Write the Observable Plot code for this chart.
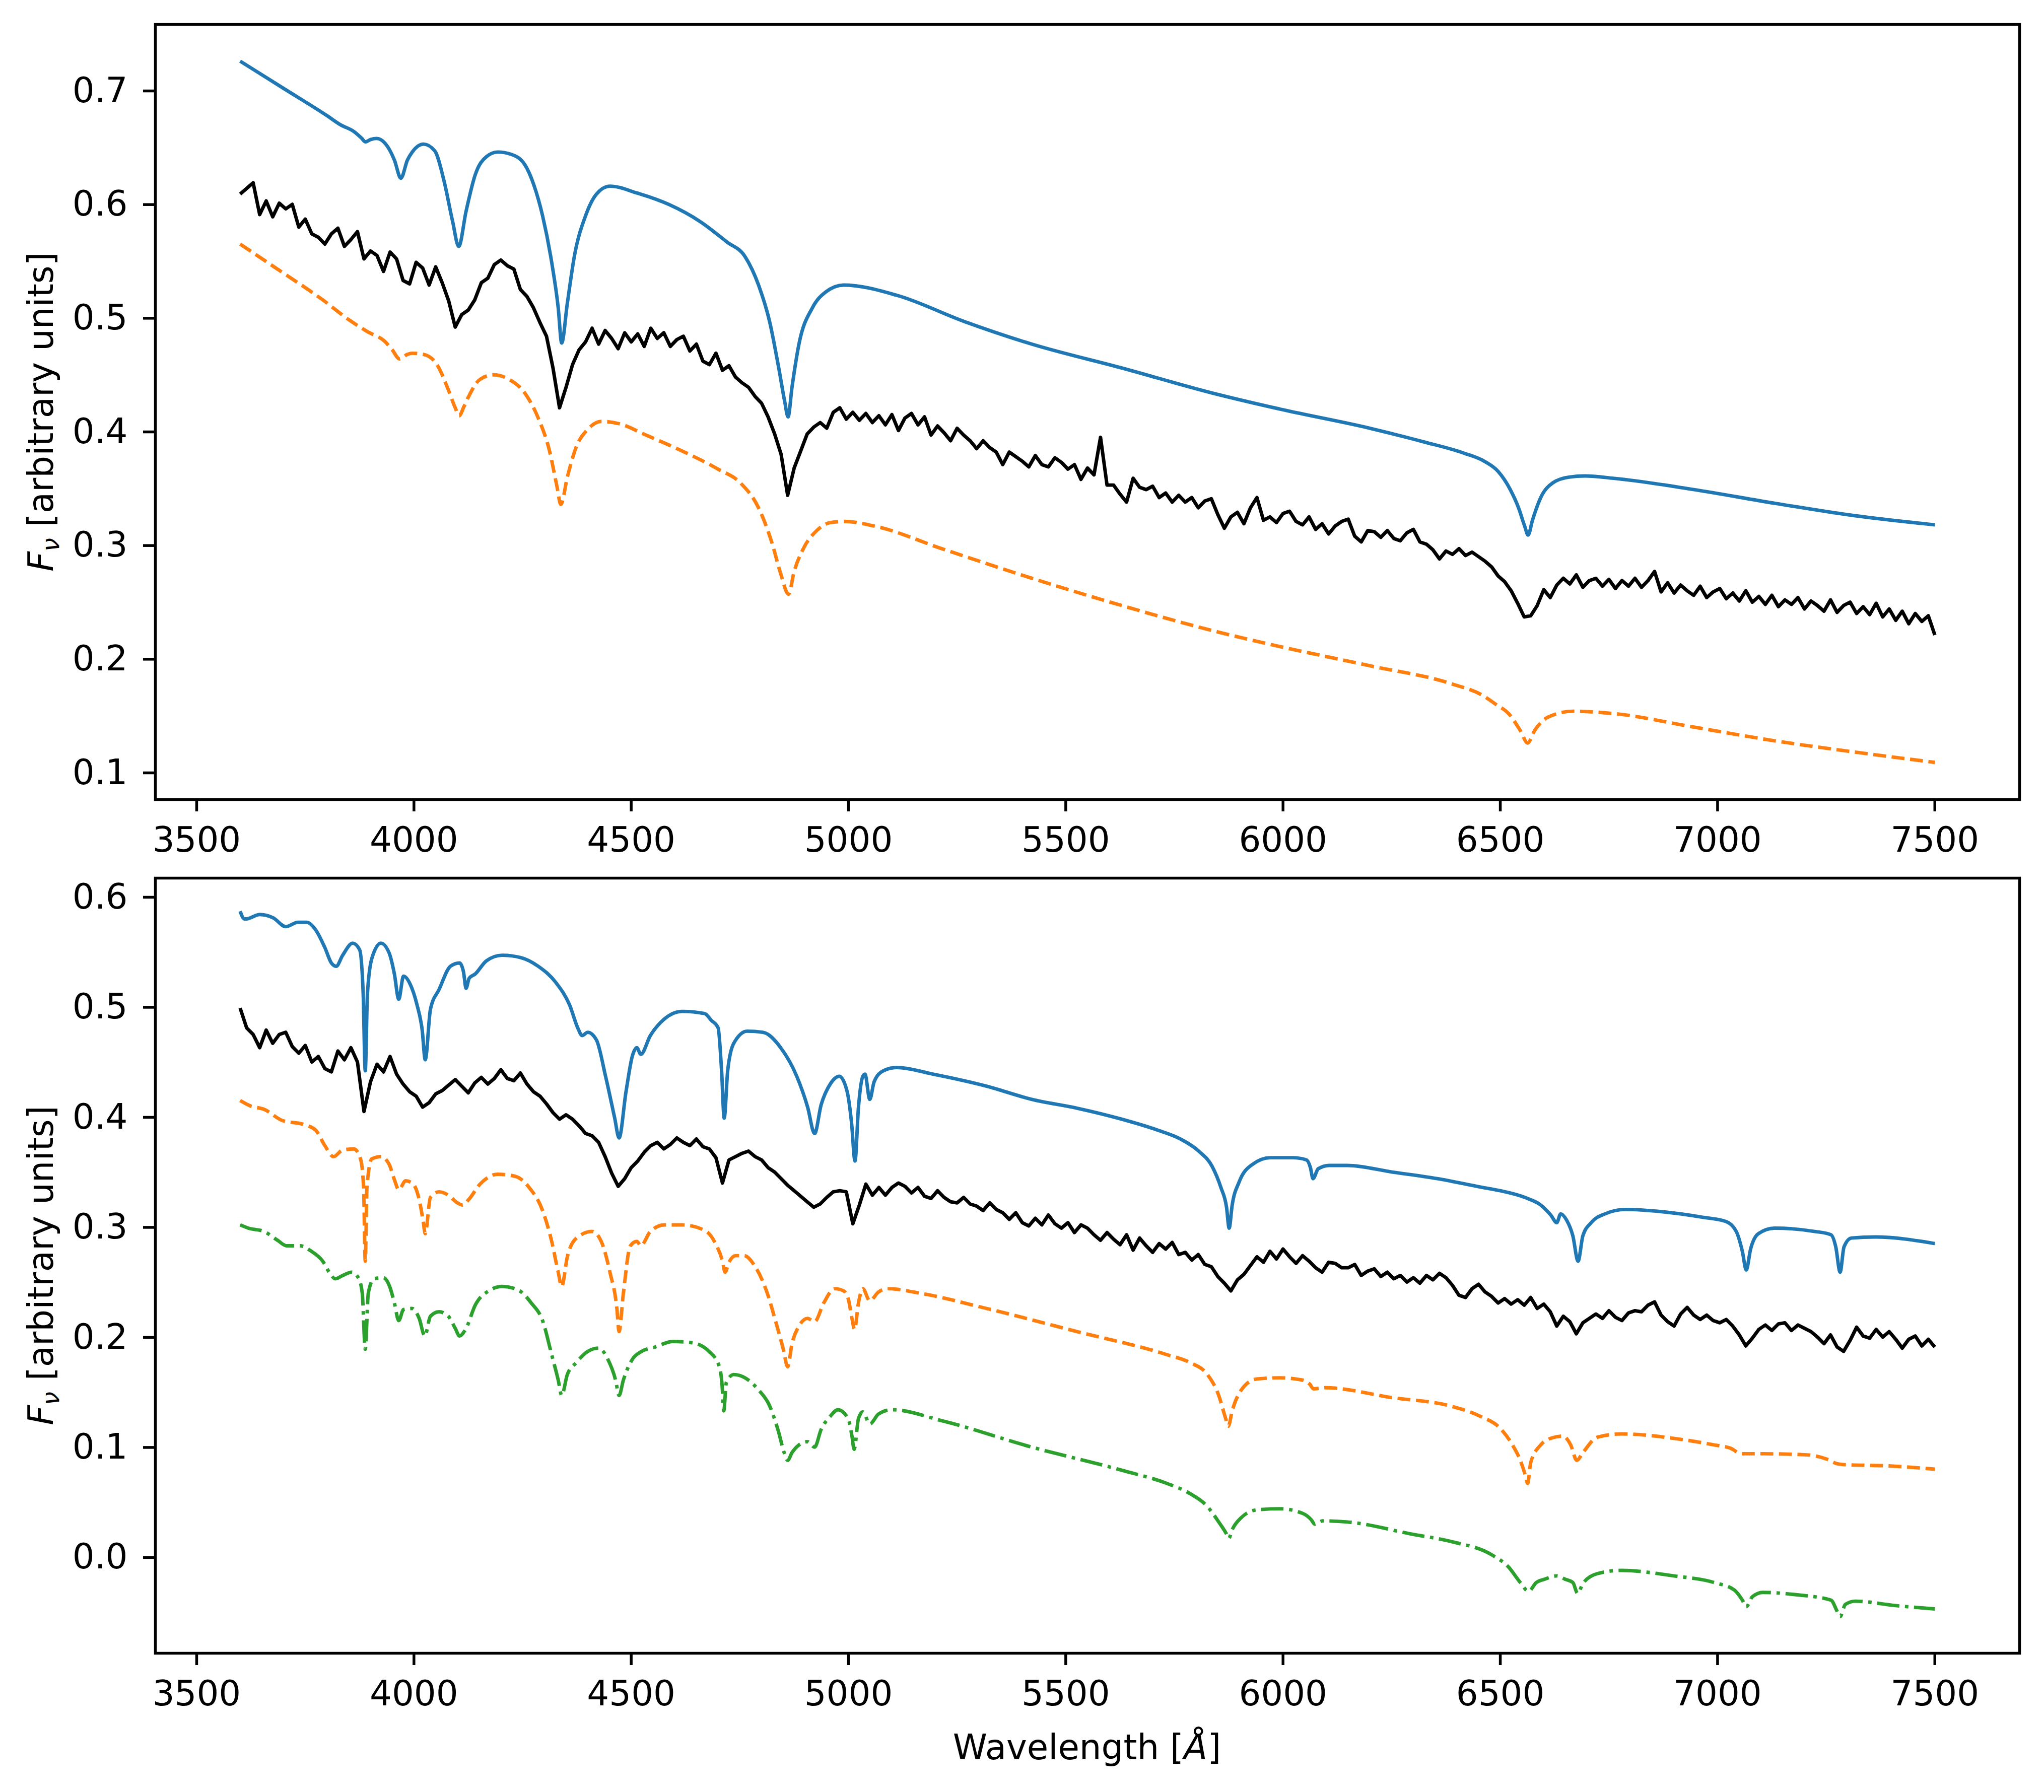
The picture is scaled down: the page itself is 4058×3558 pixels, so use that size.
<!DOCTYPE html>
<html><head><meta charset="utf-8">
<script src="https://cdn.jsdelivr.net/npm/d3@7"></script>
<script src="https://cdn.jsdelivr.net/npm/@observablehq/plot@0.6"></script>
<style>
html,body{margin:0;padding:0;background:#fff;}
#chart{width:4058px;height:3558px;position:relative;background:#fff;}
#chart svg{display:block;}
</style></head><body><div id="chart"></div>
<script>
// ---- tick labels ----
const wavelengthTicks = [3500, 4000, 4500, 5000, 5500, 6000, 6500, 7000, 7500];
const topFluxTicks = [0.1, 0.2, 0.3, 0.4, 0.5, 0.6, 0.7];
const bottomFluxTicks = [0.0, 0.1, 0.2, 0.3, 0.4, 0.5, 0.6];

// ---- observed spectra (sampled every 15 Å from 3600 Å) ----
const obsStart = 3600, obsStep = 15;
const topObserved = [
0.607,0.612,0.617,0.589,0.601,0.587,0.599,0.594,0.598,0.578,
0.585,0.572,0.569,0.563,0.572,0.577,0.561,0.567,0.574,0.550,
0.557,0.553,0.539,0.556,0.550,0.531,0.528,0.547,0.542,0.527,
0.543,0.529,0.513,0.490,0.501,0.505,0.514,0.529,0.533,0.545,
0.549,0.544,0.541,0.523,0.517,0.507,0.494,0.482,0.454,0.419,
0.437,0.457,0.470,0.477,0.489,0.475,0.487,0.480,0.471,0.485,
0.477,0.484,0.473,0.489,0.480,0.485,0.473,0.479,0.482,0.469,
0.475,0.460,0.457,0.467,0.452,0.456,0.446,0.441,0.437,0.429,
0.423,0.411,0.396,0.378,0.342,0.366,0.381,0.396,0.402,0.406,
0.401,0.415,0.419,0.409,0.415,0.408,0.414,0.406,0.412,0.404,
0.413,0.399,0.410,0.414,0.404,0.411,0.395,0.403,0.397,0.390,
0.401,0.395,0.390,0.383,0.390,0.384,0.380,0.369,0.380,0.376,
0.372,0.367,0.377,0.369,0.367,0.375,0.371,0.365,0.369,0.356,
0.366,0.360,0.393,0.351,0.351,0.343,0.336,0.357,0.349,0.347,
0.350,0.340,0.344,0.336,0.342,0.336,0.340,0.331,0.337,0.339,
0.325,0.313,0.323,0.327,0.317,0.331,0.340,0.320,0.323,0.318,
0.326,0.328,0.319,0.316,0.323,0.312,0.317,0.308,0.315,0.319,
0.321,0.306,0.301,0.311,0.310,0.305,0.311,0.304,0.302,0.309,
0.312,0.301,0.299,0.294,0.286,0.293,0.290,0.295,0.289,0.292,
0.288,0.284,0.279,0.271,0.266,0.258,0.247,0.235,0.236,0.245,
0.259,0.252,0.263,0.269,0.264,0.272,0.261,0.267,0.269,0.262,
0.268,0.260,0.267,0.262,0.269,0.261,0.267,0.275,0.257,0.265,
0.256,0.263,0.258,0.254,0.262,0.252,0.257,0.260,0.251,0.256,
0.249,0.258,0.248,0.253,0.246,0.254,0.244,0.250,0.246,0.252,
0.242,0.249,0.245,0.240,0.250,0.239,0.245,0.248,0.238,0.244,
0.237,0.247,0.235,0.242,0.232,0.240,0.229,0.238,0.231,0.236,
0.219];
const bottomObserved = [
0.497,0.479,0.473,0.461,0.477,0.465,0.473,0.475,0.462,0.456,
0.463,0.448,0.453,0.442,0.439,0.458,0.450,0.461,0.448,0.403,
0.430,0.446,0.439,0.453,0.437,0.428,0.421,0.417,0.407,0.411,
0.419,0.422,0.427,0.432,0.426,0.420,0.429,0.434,0.428,0.433,
0.441,0.433,0.431,0.438,0.428,0.421,0.417,0.410,0.402,0.396,
0.400,0.396,0.390,0.383,0.381,0.375,0.362,0.347,0.335,0.342,
0.352,0.358,0.366,0.372,0.375,0.369,0.373,0.379,0.375,0.372,
0.378,0.371,0.369,0.361,0.338,0.359,0.362,0.365,0.367,0.362,
0.359,0.352,0.348,0.342,0.336,0.331,0.326,0.321,0.316,0.319,
0.325,0.330,0.331,0.330,0.301,0.318,0.337,0.327,0.334,0.327,
0.334,0.338,0.335,0.329,0.334,0.326,0.324,0.331,0.325,0.321,
0.320,0.325,0.319,0.317,0.313,0.320,0.314,0.311,0.305,0.311,
0.302,0.299,0.306,0.300,0.309,0.301,0.297,0.302,0.293,0.300,
0.297,0.291,0.286,0.293,0.287,0.282,0.291,0.277,0.288,0.281,
0.275,0.283,0.278,0.284,0.273,0.275,0.268,0.273,0.264,0.262,
0.253,0.247,0.240,0.250,0.255,0.263,0.271,0.266,0.276,0.269,
0.278,0.271,0.265,0.272,0.267,0.261,0.257,0.266,0.265,0.261,
0.261,0.264,0.254,0.258,0.260,0.253,0.257,0.251,0.254,0.248,
0.252,0.247,0.254,0.250,0.256,0.252,0.245,0.236,0.234,0.242,
0.246,0.239,0.235,0.229,0.233,0.228,0.232,0.227,0.234,0.224,
0.228,0.221,0.208,0.217,0.212,0.201,0.211,0.215,0.219,0.215,
0.222,0.216,0.213,0.220,0.222,0.221,0.227,0.230,0.218,0.212,
0.208,0.219,0.225,0.218,0.214,0.218,0.213,0.211,0.214,0.208,
0.200,0.190,0.197,0.205,0.209,0.204,0.210,0.211,0.204,0.209,
0.206,0.203,0.198,0.192,0.200,0.189,0.185,0.195,0.207,0.199,
0.197,0.205,0.198,0.203,0.196,0.188,0.196,0.199,0.190,0.196,
0.189];

// ---- model spectra [wavelength Å, flux] ----
const topModelA = [[3600,0.724],[3700,0.700],[3800,0.676],[3831,0.668],[3862,0.662],[3880,0.656],[3888,0.653],[3900,0.655],[3914,0.656],[3939,0.649],[3955,0.637],[3970,0.621],[3985,0.637],[3996,0.644],[4022,0.651],[4048,0.645],[4069,0.619],[4089,0.583],[4103,0.561],[4120,0.592],[4141,0.624],[4167,0.640],[4193,0.644],[4224,0.642],[4255,0.633],[4276,0.615],[4296,0.588],[4317,0.547],[4332,0.507],[4340,0.476],[4353,0.511],[4369,0.552],[4395,0.588],[4420,0.607],[4451,0.614],[4513,0.608],[4586,0.598],[4658,0.583],[4720,0.565],[4762,0.552],[4793,0.527],[4819,0.494],[4840,0.453],[4853,0.425],[4861,0.411],[4870,0.437],[4886,0.475],[4917,0.507],[4948,0.521],[4989,0.527],[5111,0.518],[5266,0.495],[5422,0.475],[5629,0.454],[5837,0.432],[6003,0.417],[6200,0.401],[6324,0.389],[6417,0.379],[6463,0.372],[6495,0.363],[6523,0.347],[6542,0.331],[6556,0.315],[6564,0.307],[6574,0.320],[6593,0.340],[6621,0.353],[6658,0.358],[6695,0.359],[6760,0.357],[6946,0.347],[7131,0.335],[7317,0.324],[7500,0.316]];
const topModelB = [[3600,0.563],[3686,0.541],[3790,0.514],[3852,0.496],[3893,0.486],[3934,0.477],[3950,0.470],[3967,0.462],[3985,0.466],[3996,0.467],[4022,0.466],[4053,0.457],[4079,0.435],[4095,0.419],[4104,0.412],[4115,0.420],[4126,0.429],[4152,0.444],[4183,0.448],[4219,0.444],[4255,0.432],[4286,0.410],[4312,0.381],[4329,0.350],[4338,0.334],[4353,0.358],[4374,0.385],[4400,0.400],[4431,0.407],[4472,0.405],[4534,0.395],[4617,0.381],[4700,0.365],[4751,0.353],[4793,0.331],[4824,0.300],[4844,0.273],[4862,0.255],[4875,0.275],[4896,0.295],[4927,0.311],[4958,0.318],[4989,0.319],[5059,0.315],[5215,0.295],[5422,0.269],[5629,0.245],[5837,0.223],[5992,0.209],[6200,0.192],[6389,0.176],[6459,0.166],[6490,0.158],[6519,0.150],[6546,0.135],[6563,0.124],[6579,0.135],[6611,0.147],[6667,0.152],[6760,0.150],[6946,0.138],[7131,0.126],[7317,0.116],[7500,0.107]];
const bottomModelA = [[3600,0.585],[3610,0.578],[3614,0.578],[3645,0.582],[3676,0.579],[3705,0.571],[3733,0.575],[3753,0.575],[3774,0.568],[3795,0.552],[3810,0.538],[3821,0.535],[3836,0.545],[3859,0.556],[3875,0.550],[3883,0.512],[3888,0.440],[3893,0.510],[3903,0.542],[3924,0.556],[3943,0.547],[3955,0.528],[3965,0.505],[3976,0.526],[3991,0.519],[4007,0.500],[4019,0.477],[4026,0.450],[4038,0.496],[4058,0.514],[4084,0.535],[4105,0.538],[4114,0.530],[4120,0.515],[4127,0.524],[4141,0.528],[4167,0.540],[4203,0.545],[4245,0.543],[4286,0.535],[4327,0.520],[4358,0.500],[4378,0.478],[4387,0.472],[4400,0.475],[4420,0.468],[4441,0.435],[4462,0.397],[4472,0.379],[4488,0.421],[4503,0.454],[4513,0.461],[4522,0.455],[4544,0.472],[4576,0.487],[4617,0.494],[4669,0.492],[4684,0.486],[4700,0.479],[4708,0.440],[4714,0.397],[4722,0.440],[4736,0.465],[4767,0.476],[4803,0.475],[4844,0.461],[4881,0.435],[4906,0.407],[4922,0.383],[4937,0.409],[4958,0.428],[4979,0.435],[4997,0.421],[5007,0.393],[5015,0.358],[5023,0.407],[5033,0.435],[5038,0.437],[5049,0.414],[5059,0.430],[5080,0.440],[5111,0.443],[5194,0.437],[5318,0.426],[5422,0.414],[5526,0.406],[5629,0.396],[5712,0.386],[5764,0.378],[5806,0.367],[5837,0.353],[5857,0.334],[5870,0.316],[5876,0.297],[5883,0.318],[5899,0.339],[5930,0.355],[5971,0.361],[6023,0.361],[6054,0.359],[6063,0.352],[6069,0.342],[6081,0.351],[6106,0.354],[6148,0.354],[6251,0.348],[6355,0.342],[6459,0.334],[6500,0.331],[6556,0.325],[6593,0.318],[6616,0.309],[6630,0.302],[6639,0.310],[6653,0.304],[6667,0.290],[6679,0.267],[6690,0.290],[6709,0.302],[6741,0.310],[6788,0.314],[6871,0.312],[6964,0.307],[7020,0.303],[7043,0.294],[7057,0.276],[7066,0.259],[7076,0.278],[7094,0.292],[7131,0.297],[7224,0.294],[7261,0.291],[7272,0.280],[7282,0.257],[7291,0.280],[7308,0.288],[7363,0.289],[7500,0.283]];
const bottomModelB = [[3600,0.413],[3624,0.408],[3655,0.405],[3696,0.395],[3748,0.391],[3774,0.386],[3795,0.372],[3815,0.362],[3836,0.368],[3862,0.369],[3877,0.360],[3884,0.335],[3888,0.267],[3892,0.335],[3903,0.360],[3924,0.362],[3943,0.355],[3955,0.341],[3965,0.332],[3981,0.340],[3996,0.338],[4012,0.323],[4021,0.304],[4026,0.292],[4038,0.325],[4058,0.330],[4079,0.327],[4100,0.320],[4112,0.318],[4126,0.323],[4152,0.337],[4193,0.346],[4234,0.344],[4265,0.334],[4296,0.313],[4317,0.285],[4332,0.257],[4340,0.244],[4353,0.271],[4374,0.288],[4410,0.294],[4431,0.285],[4451,0.257],[4467,0.224],[4472,0.203],[4482,0.238],[4498,0.281],[4513,0.285],[4522,0.281],[4544,0.294],[4576,0.300],[4617,0.300],[4669,0.295],[4694,0.283],[4710,0.267],[4716,0.257],[4725,0.266],[4740,0.272],[4760,0.272],[4782,0.264],[4813,0.238],[4834,0.210],[4850,0.187],[4860,0.171],[4870,0.192],[4886,0.208],[4906,0.215],[4922,0.212],[4943,0.229],[4968,0.242],[4989,0.240],[5000,0.232],[5008,0.215],[5014,0.205],[5023,0.229],[5033,0.242],[5049,0.231],[5069,0.239],[5090,0.242],[5163,0.238],[5318,0.224],[5526,0.203],[5733,0.182],[5785,0.175],[5826,0.164],[5852,0.145],[5868,0.124],[5874,0.117],[5883,0.131],[5904,0.150],[5940,0.160],[5992,0.161],[6044,0.159],[6062,0.155],[6070,0.151],[6096,0.152],[6251,0.143],[6389,0.135],[6454,0.126],[6500,0.115],[6528,0.100],[6546,0.086],[6558,0.072],[6563,0.065],[6570,0.084],[6593,0.100],[6616,0.106],[6644,0.108],[6662,0.100],[6676,0.086],[6690,0.093],[6723,0.107],[6779,0.110],[6899,0.106],[6992,0.100],[7030,0.097],[7055,0.092],[7094,0.092],[7206,0.091],[7252,0.087],[7275,0.083],[7298,0.082],[7391,0.081],[7500,0.078]];
const bottomModelC = [[3600,0.300],[3619,0.297],[3655,0.294],[3686,0.286],[3707,0.281],[3738,0.281],[3764,0.276],[3790,0.267],[3805,0.257],[3819,0.251],[3836,0.254],[3857,0.257],[3872,0.252],[3881,0.238],[3888,0.187],[3895,0.238],[3908,0.251],[3929,0.252],[3945,0.243],[3955,0.229],[3965,0.213],[3976,0.223],[3996,0.224],[4012,0.215],[4025,0.199],[4038,0.217],[4058,0.221],[4079,0.217],[4095,0.206],[4105,0.199],[4120,0.206],[4141,0.227],[4172,0.240],[4203,0.244],[4239,0.241],[4270,0.229],[4296,0.213],[4317,0.182],[4332,0.159],[4340,0.145],[4353,0.164],[4374,0.175],[4400,0.185],[4425,0.188],[4446,0.178],[4464,0.159],[4472,0.145],[4482,0.159],[4503,0.178],[4524,0.185],[4555,0.189],[4596,0.194],[4638,0.193],[4679,0.185],[4703,0.171],[4709,0.155],[4713,0.131],[4719,0.157],[4736,0.164],[4762,0.161],[4793,0.150],[4818,0.136],[4839,0.112],[4852,0.093],[4860,0.086],[4870,0.093],[4886,0.100],[4906,0.103],[4922,0.098],[4937,0.114],[4958,0.126],[4976,0.132],[4999,0.124],[5008,0.108],[5013,0.096],[5023,0.124],[5033,0.130],[5049,0.119],[5069,0.128],[5100,0.132],[5215,0.122],[5422,0.098],[5629,0.077],[5733,0.065],[5785,0.056],[5826,0.044],[5852,0.030],[5870,0.019],[5875,0.015],[5883,0.023],[5904,0.034],[5940,0.041],[5992,0.042],[6044,0.038],[6065,0.032],[6073,0.028],[6091,0.031],[6148,0.030],[6296,0.019],[6389,0.012],[6481,0.000],[6519,-0.011],[6546,-0.025],[6565,-0.033],[6583,-0.025],[6602,-0.022],[6630,-0.019],[6649,-0.022],[6667,-0.025],[6678,-0.035],[6690,-0.026],[6723,-0.017],[6779,-0.014],[6899,-0.019],[6992,-0.025],[7039,-0.032],[7057,-0.041],[7066,-0.047],[7080,-0.038],[7104,-0.034],[7178,-0.036],[7261,-0.041],[7275,-0.051],[7282,-0.056],[7294,-0.045],[7317,-0.042],[7410,-0.046],[7500,-0.049]];

// ---- helpers ----
const pairRows = pairs => pairs.map(([w, f]) => ({w, f}));
const obsRows = vals => vals.map((f, i) => ({w: obsStart + i * obsStep, f}));
const FONT = "DejaVu Sans";
const LW = 6.9;

function panel({height, marginTop, marginBottom, yDomain, yTicks, series}) {
  return Plot.plot({
    width: 4058, height,
    marginLeft: 308, marginRight: 49, marginTop, marginBottom,
    style: {fontFamily: FONT, fontSize: "69px", background: "white", color: "black", overflow: "visible"},
    x: {domain: [3405, 7695]},
    y: {domain: yDomain},
    marks: [
      ...series.map(s => Plot.line(s.data, {
        x: "w", y: "f", stroke: s.color, strokeWidth: LW,
        strokeDasharray: s.dash, curve: s.curve,
        strokeLinejoin: "round", strokeLinecap: "butt"
      })),
      Plot.axisX({ticks: wavelengthTicks, tickSize: 24, tickPadding: 30, tickFormat: d => String(d),
        strokeWidth: 5.5, fontSize: 69, fontFamily: FONT, label: null}),
      Plot.axisY({ticks: yTicks, tickSize: 24, tickPadding: 31, tickFormat: d => d.toFixed(1),
        strokeWidth: 5.5, fontSize: 69, fontFamily: FONT, label: null, dy: 5}),
      Plot.frame({stroke: "black", strokeWidth: 5.5})
    ]
  });
}

const topSvg = panel({
  height: 1720, marginTop: 48, marginBottom: 133,
  yDomain: [0.0743, 0.7563], yTicks: topFluxTicks,
  series: [
    {data: pairRows(topModelA), color: "#1f77b4", curve: "monotone-x"},
    {data: obsRows(topObserved), color: "black", curve: "linear"},
    {data: pairRows(topModelB), color: "#ff7f0e", curve: "monotone-x", dash: "25.7,11.1"}
  ]
});
const bottomSvg = panel({
  height: 1838, marginTop: 23, marginBottom: 276,
  yDomain: [-0.0893, 0.6151], yTicks: bottomFluxTicks,
  series: [
    {data: pairRows(bottomModelA), color: "#1f77b4", curve: "monotone-x"},
    {data: obsRows(bottomObserved), color: "black", curve: "linear"},
    {data: pairRows(bottomModelB), color: "#ff7f0e", curve: "monotone-x", dash: "25.7,11.1"},
    {data: pairRows(bottomModelC), color: "#2ca02c", curve: "monotone-x", dash: "44.4,11.1,6.9,11.1"}
  ]
});

function addYLabel(svg, cy) {
  const t = d3.select(svg).append("text")
    .attr("transform", `translate(105,${cy}) rotate(-90)`)
    .attr("text-anchor", "middle").attr("font-family", FONT)
    .attr("font-size", 69).attr("fill", "black");
  t.append("tspan").attr("font-style", "italic").text("F");
  t.append("tspan").attr("font-style", "italic").attr("font-size", 48).attr("dy", 12).text("ν");
  t.append("tspan").attr("dy", -12).text(" [arbitrary units]");
}
addYLabel(topSvg, 817.5);
addYLabel(bottomSvg, 792.5);

const xl = d3.select(bottomSvg).append("text")
  .attr("x", 2158).attr("y", 1773).attr("text-anchor", "middle")
  .attr("font-family", FONT).attr("font-size", 69).attr("fill", "black");
xl.append("tspan").text("Wavelength [");
xl.append("tspan").attr("font-style", "italic").text("Å");
xl.append("tspan").text("]");

const chart = document.getElementById("chart");
chart.appendChild(topSvg);
chart.appendChild(bottomSvg);
</script>
</body></html>
